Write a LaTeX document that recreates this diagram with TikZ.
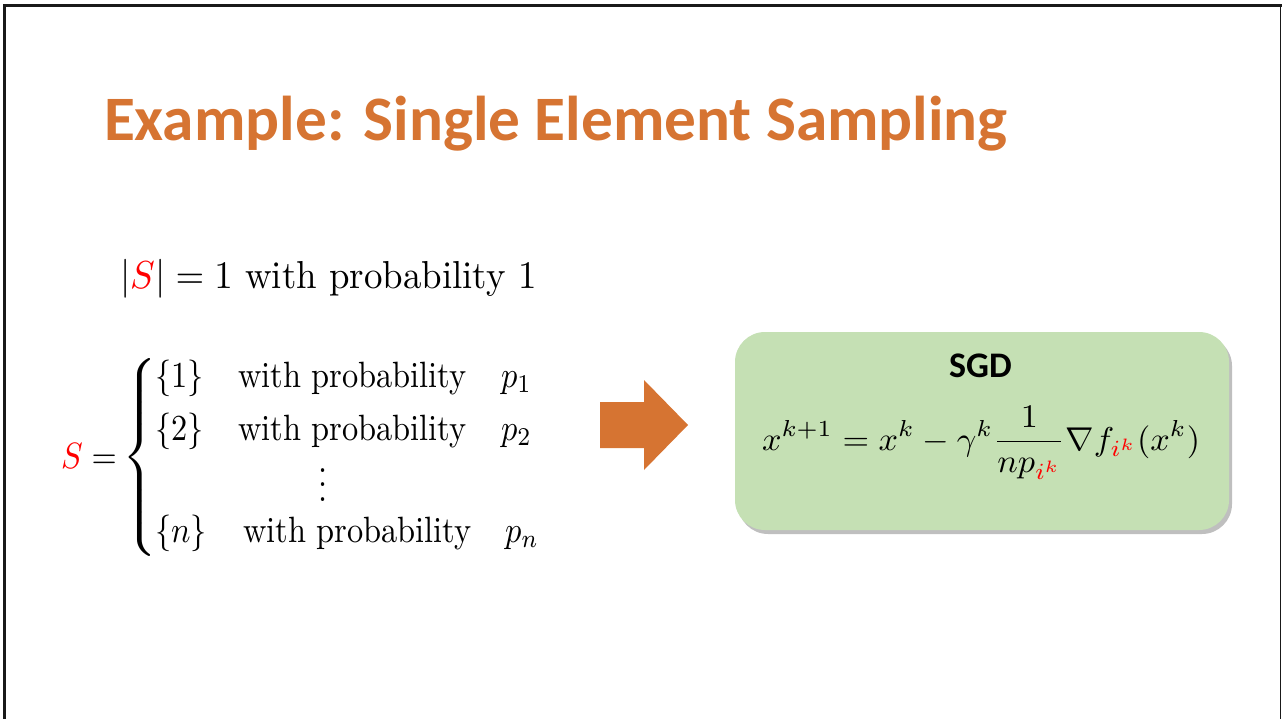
\documentclass[tikz,border=0pt]{standalone}
\usepackage{amsmath}
\usepackage{graphicx}
\usepackage{fontspec}
\newfontfamily\calfont{Carlito}
\usetikzlibrary{shadows}
\definecolor{slideorange}{HTML}{D67432}
\definecolor{boxgreen}{HTML}{C5E0B4}
\newcommand\lineone[1]{\scalebox{3.69}[3.9]{#1}}
\newcommand\caserow[1]{\scalebox{3.24}[3.66]{#1}}
\newcommand\eqscale[1]{\scalebox{3.42}[3.3]{#1}}
\tikzset{
  txt/.style={inner sep=0pt, outer sep=0pt, anchor=base west},
  framel/.style={draw=black!90, line cap=rect},
}
\begin{document}
\begin{tikzpicture}[x=1pt,y=1pt]
\useasboundingbox (0,0) rectangle (1282,-719);
% frame
\draw[framel, line width=3pt] (4.3,-719) -- (4.3,-5.3) -- (1280,-5.3);
\draw[framel, line width=1.6pt] (1280.3,-5.3) -- (1280.3,-719);
% title
\node[txt, font=\calfont\bfseries\fontsize{63.3}{75}\selectfont, text=slideorange] (title) at (104,-141) {Example: Single Element Sampling};
% first line
\node[txt] (l1) at (120,-289) {\lineone{$|{\color{red}S}| = 1$ with probability $1$}};
% cases
\node[txt] (seq) at (61,-468) {\caserow{${\color{red}S} =$}};
\node[inner sep=0pt] (brace) at (140,-461) {\scalebox{3.9}[3.66]{$\nulldelimiterspace=0pt\left\{\vrule height 26.6pt depth 26.6pt width 0pt\right.$}};
\node[txt] (r1a) at (155,-387) {\caserow{$\{1\}$}};
\node[txt] (r1b) at (238,-387) {\caserow{with probability}};
\node[txt] (r1c) at (501,-387) {\caserow{$p_1$}};
\node[txt] (r2a) at (155,-440) {\caserow{$\{2\}$}};
\node[txt] (r2b) at (238,-440) {\caserow{with probability}};
\node[txt] (r2c) at (501,-440) {\caserow{$p_2$}};
\node[inner sep=0pt] (dots) at (323,-474) {\caserow{$\vdots$}};
\node[txt] (rna) at (155,-542) {\caserow{$\{n\}$}};
\node[txt] (rnb) at (243,-542) {\caserow{with probability}};
\node[txt] (rnc) at (505,-542) {\caserow{$p_n$}};
% arrow
\fill[slideorange] (600,-402) -- (644,-402) -- (644,-380) -- (688,-425) -- (644,-470) -- (644,-448) -- (600,-448) -- cycle;
% SGD box
\node[fill=boxgreen, rounded corners=30pt, minimum width=494pt, minimum height=198pt, inner sep=0pt,
      drop shadow={shadow xshift=3pt, shadow yshift=-4pt, fill=black, opacity=0.25}] (box) at (982,-431) {};
\node[inner sep=0pt, anchor=base, font=\calfont\bfseries\fontsize{36}{42}\selectfont] (sgd) at (980.5,-377) {SGD};
\node[txt] (eq) at (762,-450) {\eqscale{$\displaystyle x^{k+1} = x^k - \gamma^k \frac{1}{np_{\color{red}i^k}} \nabla f_{\color{red}i^k}(x^k)$}};
\end{tikzpicture}
\end{document}
